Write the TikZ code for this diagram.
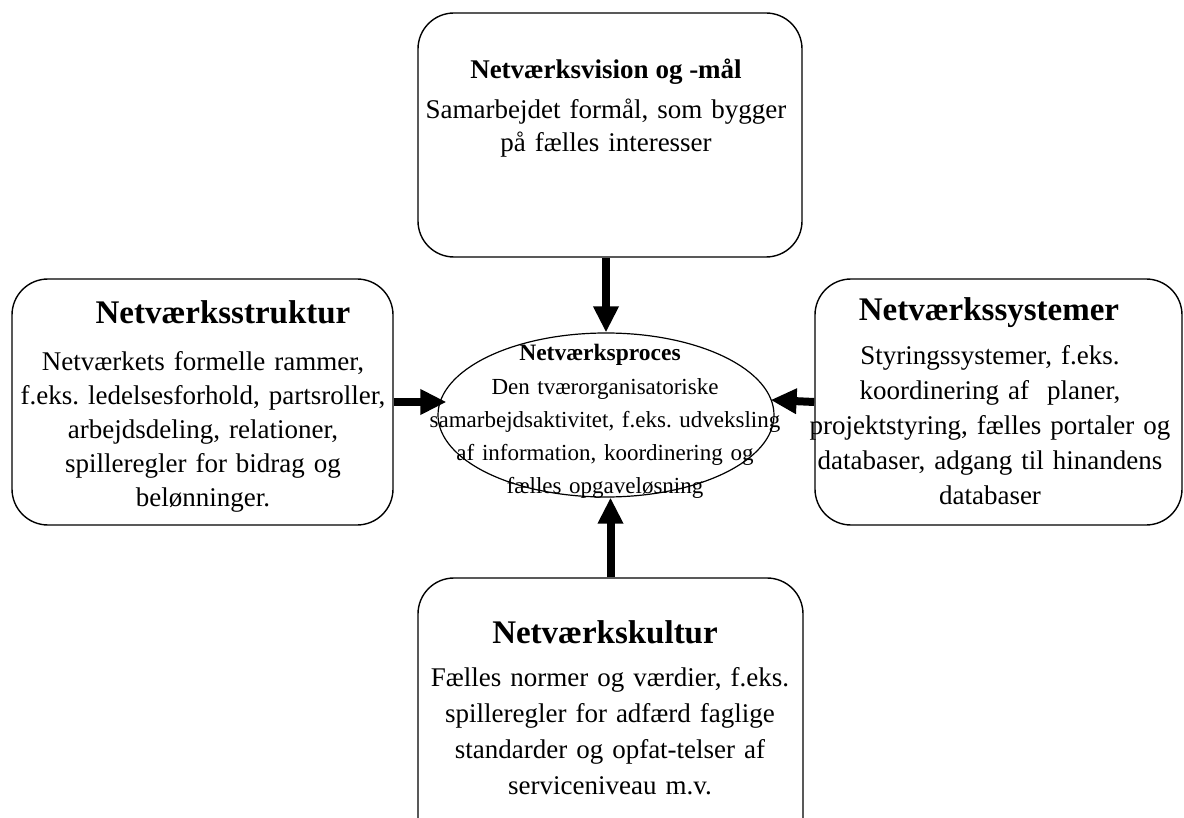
\documentclass[tikz,border=0pt]{standalone}
\usepackage{fontspec}
\setmainfont{Liberation Serif}
\usetikzlibrary{arrows.meta,shapes.geometric,calc}
\frenchspacing
\begin{document}
\begin{tikzpicture}[x=1pt,y=-1pt,
  panel/.style={draw, line width=1.4pt, rounded corners=36pt, inner sep=0pt},
  hub/.style={draw, ellipse, line width=1.2pt, inner sep=0pt},
  flow/.style={line width=8pt, -{Triangle[length=26pt,width=24pt]}},
  bigtitle/.style={inner sep=0pt, anchor=base, font=\fontsize{33pt}{40pt}\selectfont\bfseries},
  midtitle/.style={inner sep=0pt, anchor=base, font=\fontsize{27pt}{33pt}\selectfont\bfseries},
  hubtitle/.style={inner sep=0pt, anchor=base, font=\fontsize{23.5pt}{30pt}\selectfont\bfseries},
  bodytext/.style={inner sep=0pt, anchor=base, text width=460pt, align=center,
    font=\fontsize{27pt}{#1}\selectfont},
  hubtext/.style={inner sep=0pt, anchor=base, text width=460pt, align=center,
    font=\fontsize{23pt}{33pt}\selectfont}
]
\useasboundingbox (0,0) rectangle (1184,818);

% the five building blocks
\node[panel, minimum width=384pt, minimum height=244pt] (vision) at (610,135) {};
\node[panel, minimum width=381pt, minimum height=246pt] (struct) at (202.5,402) {};
\node[panel, minimum width=367pt, minimum height=246pt] (sys) at (998.5,402) {};
\node[panel, minimum width=385pt, minimum height=282pt] (culture) at (610.5,719) {};
\node[hub, minimum width=336pt, minimum height=164pt] (proc) at (606,415) {};

% arrows into the central process
\draw[flow] (vision.south -| proc.north) -- (proc.north);
\draw[flow] (struct.east) -- ($(proc.west |- struct.east)+(9,0)$);
\draw[flow] (sys.west) -- ($(proc.east |- sys.west)+(-4,-2)$);
\draw[flow] (culture.north) -- (culture.north |- proc.south);

% texts
\node[midtitle] (visionT) at (606,79) {Netværksvision og -mål};
\node[bodytext=33pt] (visionB) at (606,119) {Samarbejdet formål, som bygger\\på fælles interesser};

\node[bigtitle] (structT) at (223,324) {Netværksstruktur};
\node[bodytext=34pt] (structB) at (203,371) {Netværkets formelle rammer,\\f.eks. ledelsesforhold, partsroller,\\arbejdsdeling, relationer,\\spilleregler for bidrag og\\belønninger.};

\node[bigtitle] (sysT) at (989,321) {Netværkssystemer};
\node[bodytext=35pt] (sysB) at (990,365) {Styringssystemer, f.eks.\\koordinering af\ \ planer,\\projektstyring, fælles portaler og\\databaser, adgang til hinandens\\databaser};

\node[bigtitle] (cultureT) at (605,643) {Netværkskultur};
\node[bodytext=36pt] (cultureB) at (610,686) {Fælles normer og værdier, f.eks.\\spilleregler for adfærd faglige\\standarder og opfat-telser af\\serviceniveau m.v.};

\node[hubtitle] (procT) at (600,361) {Netværksproces};
\node[hubtext] (procB) at (605,395) {Den tværorganisatoriske\\samarbejdsaktivitet, f.eks. udveksling\\af information, koordinering og\\fælles opgaveløsning};
\end{tikzpicture}
\end{document}
